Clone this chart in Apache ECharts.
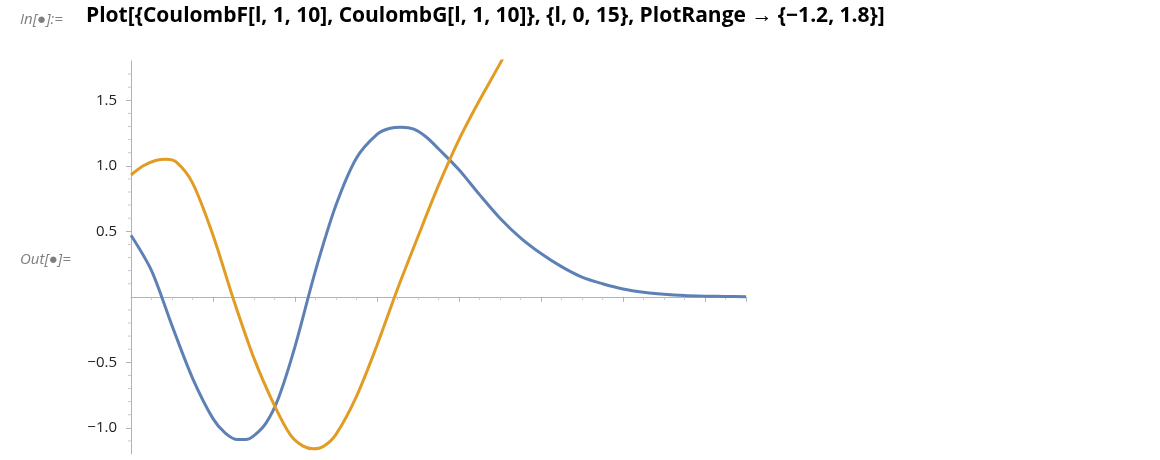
<!DOCTYPE html>
<html><head><meta charset="utf-8">
<script src="https://cdn.jsdelivr.net/npm/echarts@6/dist/echarts.min.js"></script>
<style>html,body{margin:0;background:#fff}#c{width:1160px;height:460px}</style>
</head><body><div id="c"></div>
<script>
// values
var fX = [0,0.5,1,1.5,2,2.3,2.6,2.8,3,3.3,3.6,4,4.5,5,5.5,6,6.3,6.6,6.9,7.2,7.5,8,8.5,9,9.5,10,10.5,11,11.5,12,12.5,13,13.5,14,14.5,15];
var fY = [0.47,0.2,-0.22,-0.62,-0.93,-1.04,-1.09,-1.09,-1.06,-0.96,-0.77,-0.38,0.2,0.7,1.06,1.24,1.285,1.295,1.28,1.22,1.13,0.97,0.78,0.6,0.45,0.33,0.23,0.15,0.1,0.06,0.035,0.02,0.01,0.005,0.002,0.001];
var gX = [0,0.3,0.6,0.85,1.1,1.5,2,2.5,3,3.5,3.9,4.2,4.45,4.7,5,5.5,6,6.5,7,7.5,8,8.5,9,9.2];
var gY = [0.93,1.0,1.04,1.05,1.03,0.87,0.47,-0.02,-0.47,-0.83,-1.06,-1.14,-1.16,-1.14,-1.05,-0.76,-0.37,0.06,0.46,0.85,1.2,1.5,1.78,1.9];
var xTicks = [2,4,6,8,10,12,14];
var yLabels = [-1.0,-0.5,0.5,1.0,1.5];
var yMinor = [-1.1,-0.9,-0.8,-0.7,-0.6,-0.4,-0.3,-0.2,-0.1,0.1,0.2,0.3,0.4,0.6,0.7,0.8,0.9,1.1,1.2,1.3,1.4,1.6,1.7];

function pairs(xs, ys){ return xs.map(function(x,i){ return [x, ys[i]]; }); }

var chart = echarts.init(document.getElementById('c'));
chart.setOption({
  animation: false,
  textStyle: {fontFamily: 'Open Sans'},
  graphic: [
    {type:'text', left:20, top:12, style:{text:'In[\u25CF]:=', fill:'#7f7f7f', font:'italic 15px "Open Sans"'}},
    {type:'text', left:86, top:6, style:{text:'Plot[{CoulombF[l, 1, 10], CoulombG[l, 1, 10]}, {l, 0, 15}, PlotRange \u2192 {\u22121.2, 1.8}]', fill:'#000', font:'bold 21px "Open Sans"'}},
    {type:'text', left:20, top:252, style:{text:'Out[\u25CF]=', fill:'#7f7f7f', font:'italic 15px "Open Sans"'}}
  ],
  grid: {left:131, right:414, top:61, bottom:6, outerBoundsMode:'none'},
  xAxis: {
    type:'value', min:0, max:15, interval:2,
    axisLine:{onZero:true, lineStyle:{color:'#b3b3b3'}},
    axisTick:{length:5, lineStyle:{color:'#b3b3b3'}},
    minorTick:{show:true, splitNumber:4, length:3, lineStyle:{color:'#c8c8c8'}},
    axisLabel:{color:'#222', fontSize:15, margin:10, formatter:function(v){ return xTicks.indexOf(v)>=0 ? v : ''; }},
    splitLine:{show:false}
  },
  yAxis: {
    type:'value', min:-1.2, max:1.8,
    axisLine:{show:true, onZero:true, lineStyle:{color:'#b3b3b3'}},
    axisTick:{show:true, length:5, customValues:yLabels, lineStyle:{color:'#b3b3b3'}},
    axisLabel:{color:'#222', fontSize:15, margin:14, customValues:yLabels, formatter:function(v){
      return (v < 0 ? '\u2212' : '') + Math.abs(v).toFixed(1);
    }},
    splitLine:{show:false}
  },
  series: [
    {type:'line', data:pairs(fX,fY), smooth:0.3, showSymbol:false, clip:true, lineStyle:{color:'#5e81b5', width:3}},
    {type:'line', data:pairs(gX,gY), smooth:0.3, showSymbol:false, clip:true, lineStyle:{color:'#e19c24', width:3}},
    {type:'line', data:yMinor.map(function(v){ return [0, v]; }), showSymbol:true, symbol:'rect', symbolSize:[3,1], symbolOffset:[-1.5,0], lineStyle:{opacity:0}, itemStyle:{color:'#c8c8c8'}, silent:true}
  ]
});
</script></body></html>
